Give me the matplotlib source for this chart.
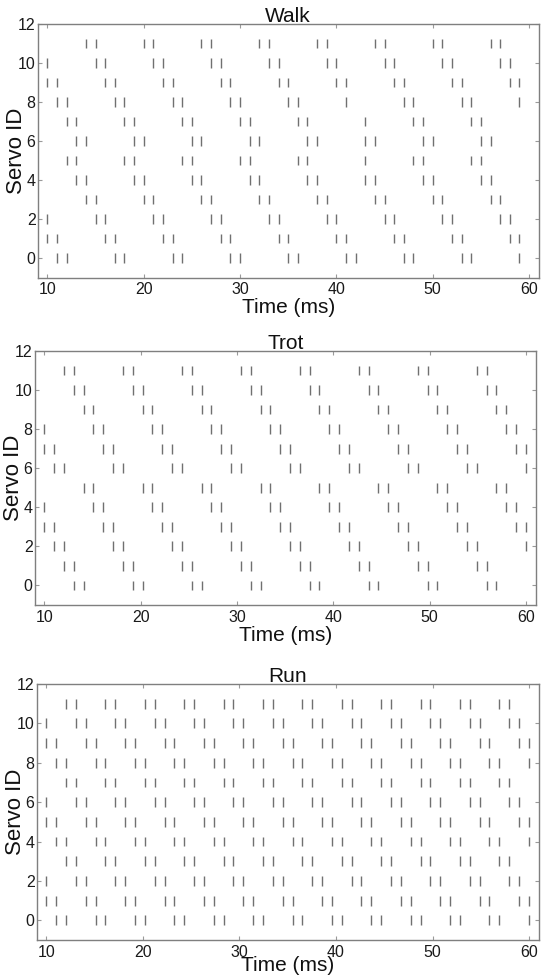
# Spike raster of servo commands for three gaits (walk / trot / run)

# %%
import matplotlib
matplotlib.use("Agg")
from matplotlib import pyplot as plt

# %% Spike times (ms), one list per servo ID 0..11
walk_spikes = [
    [11, 12, 17, 18, 23, 24, 29, 30, 35, 36, 41, 42, 47, 48, 53, 54, 59],
    [10, 11, 16, 17, 22, 23, 28, 29, 34, 35, 40, 41, 46, 47, 52, 53, 58, 59],
    [10, 15, 16, 21, 22, 27, 28, 33, 34, 39, 40, 45, 46, 51, 52, 57, 58],
    [14, 15, 20, 21, 26, 27, 32, 33, 38, 39, 44, 45, 50, 51, 56, 57],
    [13, 14, 19, 20, 25, 26, 31, 32, 37, 38, 43, 44, 49, 50, 55, 56],
    [12, 13, 18, 19, 24, 25, 30, 31, 36, 37, 43, 48, 49, 54, 55],
    [13, 14, 19, 20, 25, 26, 31, 32, 37, 38, 43, 44, 49, 50, 55, 56],
    [12, 13, 18, 19, 24, 25, 30, 31, 36, 37, 43, 48, 49, 54, 55],
    [11, 12, 17, 18, 23, 24, 29, 30, 35, 36, 41, 47, 48, 53, 54, 59],
    [10, 11, 16, 17, 22, 23, 28, 29, 34, 35, 40, 41, 46, 47, 52, 53, 58, 59],
    [10, 15, 16, 21, 22, 27, 28, 33, 34, 39, 40, 45, 46, 51, 52, 57, 58],
    [14, 15, 20, 21, 26, 27, 32, 33, 38, 39, 44, 45, 50, 51, 56, 57],
]

trot_spikes = [
    [13.06, 14.08, 19.18, 20.20, 25.30, 26.32, 31.42, 32.44, 37.54, 38.56,
     43.66, 44.68, 49.78, 50.80, 55.90, 56.92],
    [12.04, 13.06, 18.16, 19.18, 24.28, 25.30, 30.40, 31.42, 36.52, 37.54,
     42.64, 43.66, 48.76, 49.78, 54.88, 55.90],
    [11.02, 12.04, 17.14, 18.16, 23.26, 24.28, 29.38, 30.40, 35.50, 36.52,
     41.62, 42.64, 47.74, 48.76, 53.86, 54.88, 59.98],
    [10.00, 11.02, 16.12, 17.14, 22.24, 23.26, 28.36, 29.38, 34.48, 35.50,
     40.60, 41.62, 46.72, 47.74, 52.84, 53.86, 58.96, 59.98],
    [10.00, 15.10, 16.12, 21.22, 22.24, 27.34, 28.36, 33.46, 34.48, 39.58,
     40.60, 45.70, 46.72, 51.82, 52.84, 57.94, 58.96],
    [14.08, 15.10, 20.20, 21.22, 26.32, 27.34, 32.44, 33.46, 38.56, 39.58,
     44.68, 45.70, 50.80, 51.82, 56.92, 57.94],
    [11.02, 12.04, 17.14, 18.16, 23.26, 24.28, 29.38, 30.40, 35.50, 36.52,
     41.62, 42.64, 47.74, 48.76, 53.86, 54.88, 59.98],
    [10.00, 11.02, 16.12, 17.14, 22.24, 23.26, 28.36, 29.38, 34.48, 35.50,
     40.60, 41.62, 46.72, 47.74, 52.84, 53.86, 58.96, 59.98],
    [10.00, 15.10, 16.12, 21.22, 22.24, 27.34, 28.36, 33.46, 34.48, 39.58,
     40.60, 45.70, 46.72, 51.82, 52.84, 57.94, 58.96],
    [14.08, 15.10, 20.20, 21.22, 26.32, 27.34, 32.44, 33.46, 38.56, 39.58,
     44.68, 45.70, 50.80, 51.82, 56.92, 57.94],
    [13.06, 14.08, 19.18, 20.20, 25.30, 26.32, 31.42, 32.44, 37.54, 38.56,
     43.66, 44.68, 49.78, 50.80, 55.90, 56.92],
    [12.04, 13.06, 18.16, 19.18, 24.28, 25.30, 30.40, 31.42, 36.52, 37.54,
     42.64, 43.66, 48.76, 49.78, 54.88, 55.90],
]

run_spikes = [
    [11.02, 12.04, 15.10, 16.12, 19.18, 20.20, 23.26, 24.28, 27.34, 28.36,
     31.42, 32.44, 35.50, 36.52, 39.58, 40.60, 43.66, 44.68, 47.74, 48.76,
     51.82, 52.84, 55.90, 56.92, 59.98],
    [10.00, 11.02, 14.08, 15.10, 18.16, 19.18, 22.24, 23.26, 26.32, 27.34,
     30.40, 31.42, 34.48, 35.50, 38.56, 39.58, 42.64, 43.66, 46.72, 47.74,
     50.80, 51.82, 54.88, 55.90, 58.96, 59.98],
    [10.00, 13.06, 14.08, 17.14, 18.16, 21.22, 22.24, 25.30, 26.32, 29.38,
     30.40, 33.46, 34.48, 37.54, 38.56, 41.62, 42.64, 45.70, 46.72, 49.78,
     50.80, 53.86, 54.88, 57.94, 58.96],
    [12.04, 13.06, 16.12, 17.14, 20.20, 21.22, 24.28, 25.30, 28.36, 29.38,
     32.44, 33.46, 36.52, 37.54, 40.60, 41.62, 44.68, 45.70, 48.76, 49.78,
     52.84, 53.86, 56.92, 57.94],
    [11.02, 12.04, 15.10, 16.12, 19.18, 20.20, 23.26, 24.28, 27.34, 28.36,
     31.42, 32.44, 35.50, 36.52, 39.58, 40.60, 43.66, 44.68, 47.74, 48.76,
     51.82, 52.84, 55.90, 56.92, 59.98],
    [10.00, 11.02, 14.08, 15.10, 18.16, 19.18, 22.24, 23.26, 26.32, 27.34,
     30.40, 31.42, 34.48, 35.50, 38.56, 39.58, 42.64, 43.66, 46.72, 47.74,
     50.80, 51.82, 54.88, 55.90, 58.96, 59.98],
    [10.00, 13.06, 14.08, 17.14, 18.16, 21.22, 22.24, 25.30, 26.32, 29.38,
     30.40, 33.46, 34.48, 37.54, 38.56, 41.62, 42.64, 45.70, 46.72, 49.78,
     50.80, 53.86, 54.88, 57.94, 58.96],
    [12.04, 13.06, 16.12, 17.14, 20.20, 21.22, 24.28, 25.30, 28.36, 29.38,
     32.44, 33.46, 36.52, 37.54, 40.60, 41.62, 44.68, 45.70, 48.76, 49.78,
     52.84, 53.86, 56.92, 57.94],
    [11.02, 12.04, 15.10, 16.12, 19.18, 20.20, 23.26, 24.28, 27.34, 28.36,
     31.42, 32.44, 35.50, 36.52, 39.58, 40.60, 43.66, 44.68, 47.74, 48.76,
     51.82, 52.84, 55.90, 56.92, 59.98],
    [10.00, 11.02, 14.08, 15.10, 18.16, 19.18, 22.24, 23.26, 26.32, 27.34,
     30.40, 31.42, 34.48, 35.50, 38.56, 39.58, 42.64, 43.66, 46.72, 47.74,
     50.80, 51.82, 54.88, 55.90, 58.96, 59.98],
    [10.00, 13.06, 14.08, 17.14, 18.16, 21.22, 22.24, 25.30, 26.32, 29.38,
     30.40, 33.46, 34.48, 37.54, 38.56, 41.62, 42.64, 45.70, 46.72, 49.78,
     50.80, 53.86, 54.88, 57.94, 58.96],
    [12.04, 13.06, 16.12, 17.14, 20.20, 21.22, 24.28, 25.30, 28.36, 29.38,
     32.44, 33.46, 36.52, 37.54, 40.60, 41.62, 44.68, 45.70, 48.76, 49.78,
     52.84, 53.86, 56.92, 57.94],
]

gait_titles = ["Walk", "Trot", "Run"]
servo_ids = list(range(12))
x_ticks = [10, 20, 30, 40, 50, 60]
y_ticks = [0, 2, 4, 6, 8, 10, 12]

# %%
plt.rcParams['font.family'] = ['Liberation Sans', 'DejaVu Sans']

W, H = 541, 976
fig = plt.figure(figsize=(W / 100, H / 100), dpi=100)

# axes boxes in pixels: left, top, right, bottom
boxes = [
    (37.7, 24.0, 538.7, 277.5),
    (34.7, 351.0, 535.7, 605.0),
    (36.7, 684.0, 538.7, 940.0),
]
xlabel_pads = [0.5, 0.5, -2.5]

spine_col = '#7f7f7f'
spike_col = '#707070'

for title, spikes, (l, t, r, b), lpad in zip(
        gait_titles, [walk_spikes, trot_spikes, run_spikes], boxes,
        xlabel_pads):
    ax = fig.add_axes([l / W, 1 - b / H, (r - l) / W, (b - t) / H])
    ax.eventplot(spikes, lineoffsets=servo_ids, linelengths=0.5,
                 linewidths=1.0, colors=spike_col)
    ax.set_xlim(9, 61)
    ax.set_ylim(-1, 12)
    ax.set_xticks(x_ticks)
    ax.set_yticks(y_ticks)
    for s in ax.spines.values():
        s.set_color(spine_col)
        s.set_linewidth(1.0)
    ax.tick_params(direction='in', top=True, right=True, length=3,
                   width=0.8, color='#9a9a9a', labelsize=11.5,
                   labelcolor='#1a1a1a')
    ax.tick_params(axis='x', pad=3.5)
    ax.tick_params(axis='y', pad=1.5)
    ax.set_title(title, fontsize=15, pad=1.5, color='#111111')
    ax.set_xlabel('Time (ms)', fontsize=15, labelpad=lpad, color='#111111')
    ax.set_ylabel('Servo ID', fontsize=16, color='#111111')
    ax.yaxis.set_label_coords(-0.022, 0.5)

fig.savefig("out.png", dpi=100)
